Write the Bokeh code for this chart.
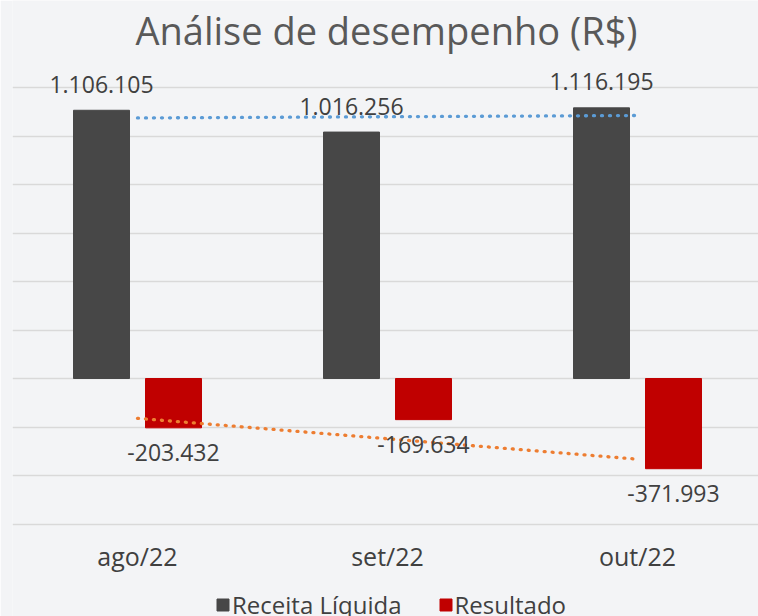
from bokeh.plotting import figure
from bokeh.models import (ColumnDataSource, Range1d, FixedTicker, Legend, LegendItem, Label)
from bokeh.transform import dodge
from bokeh.embed import file_html
from bokeh.resources import INLINE
import numpy as np

# ---- data ----
categories = ["ago/22", "set/22", "out/22"]
receita = [1106105, 1016256, 1116195]
resultado = [-203432, -169634, -371993]
receita_labels = ["1.106.105", "1.016.256", "1.116.195"]
resultado_labels = ["-203.432", "-169.634", "-371.993"]
grid_ticks = [-600000, -400000, -200000, 0, 200000, 400000, 600000, 800000, 1000000, 1200000]
axis_base = -600000

FONT = "Open Sans"
TXT = "#404040"

xpos = [i + 0.5 for i in range(len(categories))]
src = ColumnDataSource(dict(x=xpos, receita=receita, resultado=resultado,
                            rl=receita_labels, sl=resultado_labels))

# linear trend lines (Excel-style)
idx = np.arange(1, len(categories) + 1)
tr_r = np.polyval(np.polyfit(idx, receita, 1), idx)
tr_s = np.polyval(np.polyfit(idx, resultado, 1), idx)

p = figure(width=758, height=616, output_backend="svg", toolbar_location=None,
           x_range=Range1d(0, 746 / 250), y_range=Range1d(-981400, 1558800),
           min_border_left=12, min_border_right=0, min_border_top=0, min_border_bottom=0)
p.background_fill_color = "#f3f4f6"
p.border_fill_color = "#f3f4f6"
p.outline_line_color = None

title = Label(x=374, y=587, x_units="screen", y_units="screen",
              text="Análise de desempenho (R$)", text_align="center",
              text_baseline="alphabetic", text_font=FONT, text_font_size="38px",
              text_color="#595959")
p.add_layout(title)

r1 = p.vbar(x=dodge("x", -0.144, range=p.x_range), top="receita", width=0.224,
            source=src, color="#474747")
r2 = p.vbar(x=dodge("x", 0.144, range=p.x_range), top="resultado", width=0.224,
            source=src, color="#c00000")

p.line(xpos, list(tr_r), line_color="#5b9bd5", line_width=3.3, line_dash="1 7", line_cap="round")
p.line(xpos, list(tr_s), line_color="#ed7d31", line_width=3.3, line_dash="1 7", line_cap="round")

p.text(x=dodge("x", -0.144, range=p.x_range), y="receita", text="rl", source=src,
       text_align="center", text_baseline="alphabetic", y_offset=-26,
       text_font={"value": FONT}, text_font_size="23px", text_color=TXT)
p.text(x=dodge("x", 0.144, range=p.x_range), y="resultado", text="sl", source=src,
       text_align="center", text_baseline="top", y_offset=16,
       text_font={"value": FONT}, text_font_size="23px", text_color=TXT)

p.yaxis.visible = False
p.ygrid.ticker = FixedTicker(ticks=grid_ticks)
p.ygrid.grid_line_color = "#d9d9d9"
p.ygrid.grid_line_width = 1.7
p.xgrid.visible = False

p.xaxis.fixed_location = axis_base
p.xaxis.ticker = FixedTicker(ticks=xpos)
p.xaxis.major_label_overrides = {x: c for x, c in zip(xpos, categories)}
p.xaxis.axis_line_color = None
p.xaxis.major_tick_line_color = None
p.xaxis.minor_tick_line_color = None
p.xaxis.major_label_text_font = FONT
p.xaxis.major_label_text_font_size = "25px"
p.xaxis.major_label_text_color = TXT
p.xaxis.major_label_standoff = 9

legend = Legend(items=[LegendItem(label="Receita Líquida", renderers=[r1]),
                       LegendItem(label="Resultado", renderers=[r2])],
                location=(203, -5), orientation="horizontal",
                background_fill_alpha=0, border_line_color=None,
                label_text_font=FONT, label_text_font_size="24px", label_text_color=TXT,
                glyph_width=15, glyph_height=15, label_standoff=2, spacing=36,
                padding=0, margin=0)
p.add_layout(legend)

open("out.html", "w").write(file_html(p, INLINE))
